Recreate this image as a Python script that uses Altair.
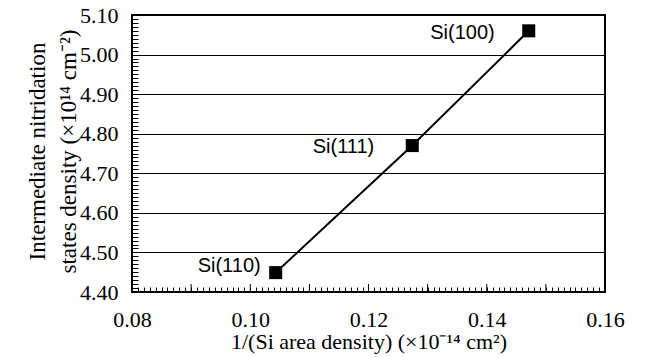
import altair as alt
import pandas as pd

# Data
labels = ["Si(110)", "Si(111)", "Si(100)"]
x_vals = [0.1043, 0.1274, 0.1471]
y_vals = [4.449, 4.770, 5.060]

# Axis tick positions (labels every 0.02 on x, every 0.10 on y)
x_ticks = [round(0.08 + i * 0.001, 3) for i in range(81)]
x_major = [round(0.08 + i * 0.01, 2) for i in range(9)]
y_ticks = [round(4.40 + i * 0.01, 2) for i in range(71)]

W, H = 473, 277
SERIF = "Liberation Serif"
XTITLE = "1/(Si area density) (×10⁻¹⁴ cm²)"
YTITLE = ["Intermediate nitridation", "states density (×10¹⁴ cm⁻²)"]

X_LABEL_TEST = "abs(datum.value*50 - round(datum.value*50)) < 1e-6"
Y_LABEL_TEST = "abs(datum.value*10 - round(datum.value*10)) < 1e-6"

df = pd.DataFrame({"x": x_vals, "y": y_vals, "label": labels})
xscale = alt.Scale(domain=[0.08, 0.16], nice=False, zero=False)
yscale = alt.Scale(domain=[4.40, 5.10], nice=False, zero=False)


def x_axis():
    return alt.Axis(values=x_ticks,
                    labelExpr=f"({X_LABEL_TEST}) ? format(datum.value, '.2f') : ''",
                    grid=False, ticks=True, tickSize=alt.ExprRef(expr="-5"),
                    tickColor="black", tickWidth=1, tickOpacity=1, domain=False,
                    labelPadding=22, labelOverlap=False, labelFlush=False,
                    labelFont=SERIF, labelFontSize=22, labelColor="black",
                    title=XTITLE, titlePadding=1, zindex=1,
                    titleFont=SERIF, titleFontSize=22, titleColor="black",
                    titleFontWeight="normal")


def y_axis():
    return alt.Axis(values=y_ticks,
                    labelExpr=f"({Y_LABEL_TEST}) ? format(datum.value, '.2f') : ''",
                    grid=True, gridColor="black", gridWidth=1,
                    gridOpacity={"condition": {"test": Y_LABEL_TEST, "value": 1}, "value": 0},
                    ticks=True, tickSize=alt.ExprRef(expr="-6"),
                    tickColor="black", tickWidth=1, tickOpacity=1, domain=False,
                    labelPadding=20, labelOverlap=False, labelFlush=False,
                    labelFont=SERIF, labelFontSize=22, labelColor="black",
                    title=YTITLE, zindex=1,
                    titleFont=SERIF, titleFontSize=23, titleColor="black",
                    titleFontWeight="normal",
                    titleLineHeight=31, titleAngle=-90,
                    titleBaseline="middle", titleAlign="center",
                    titleX=-95, titleY=136)


def X(field):
    return alt.X(field, scale=xscale, axis=x_axis(), title=XTITLE)


def Y(field):
    return alt.Y(field, scale=yscale, axis=y_axis(), title=YTITLE)


line = alt.Chart(df).mark_line(color="black", strokeWidth=2).encode(x=X("x:Q"), y=Y("y:Q"))
points = alt.Chart(df).mark_point(shape="square", filled=True, color="black", size=170,
                                  opacity=1).encode(x=X("x:Q"), y=Y("y:Q"))

offsets = {"Si(110)": (-15, -7), "Si(111)": (-38, 1), "Si(100)": (-34, 2)}
texts = []
for lab in labels:
    dx, dy = offsets[lab]
    texts.append(
        alt.Chart(df[df["label"] == lab]).mark_text(
            align="right", baseline="middle", dx=dx, dy=dy,
            font="Liberation Sans", fontSize=20, color="black"
        ).encode(x=X("x:Q"), y=Y("y:Q"), text="label:N")
    )

major = alt.Chart(pd.DataFrame({"v": x_major})).mark_rule(
    color="black", strokeWidth=1, opacity=1
).encode(x=X("v:Q"), y=alt.value(H), y2=alt.value(H - 8))

chart = alt.layer(line, points, major, *texts).properties(
    width=W, height=H,
    autosize=alt.AutoSizeParams(type="none"),
    padding={"left": 124, "top": 7, "right": 36, "bottom": 66},
).configure_view(
    stroke="black", strokeWidth=2
).configure_axis(
    labelFont=SERIF, titleFont=SERIF
)

chart.save("out.html", embed_options={"renderer": "svg", "actions": False})
